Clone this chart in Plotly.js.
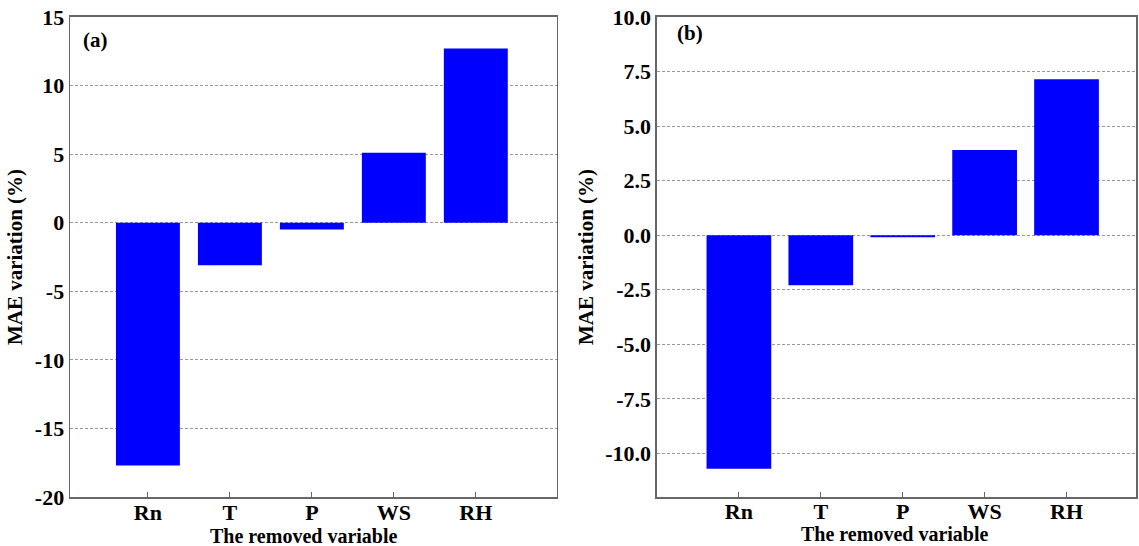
<!DOCTYPE html>
<html><head><meta charset="utf-8">
<script src="https://cdn.plot.ly/plotly-3.0.1.min.js"></script>
<style>html,body{margin:0;padding:0;background:#fff}#chart{width:1139px;height:546px}</style>
</head><body><div id="chart"></div>
<script>
const categories = ["Rn", "T", "P", "WS", "RH"];
const maeA = [-17.7, -3.1, -0.5, 5.1, 12.7];
const maeB = [-10.7, -2.3, -0.1, 3.9, 7.15];
const ticksA = [-20, -15, -10, -5, 0, 5, 10, 15];
const ticksB = [-10, -7.5, -5, -2.5, 0, 2.5, 5, 7.5, 10];
const ticksBText = ticksB.map(v => v.toFixed(1));
const xTitle = "The removed variable";
const yTitle = "MAE variation (%)";

const font = {family: "Liberation Serif, Times New Roman, serif", color: "#000", weight: 700};
const barColor = "#0000ff";

const traces = [
  {type: "bar", x: categories, y: maeA, xaxis: "x", yaxis: "y", marker: {color: barColor}, width: 0.78, hoverinfo: "x+y"},
  {type: "bar", x: categories, y: maeB, xaxis: "x2", yaxis: "y2", marker: {color: barColor}, width: 0.79, hoverinfo: "x+y"}
];

const xbase = {
  type: "category", showline: true, linecolor: "#666", linewidth: 1.5, mirror: true,
  ticks: "inside", ticklen: 5, tickcolor: "#666", showgrid: false,
  tickfont: Object.assign({}, font, {size: 22}), ticklabelstandoff: -5
};
const ybase = {
  showline: true, linecolor: "#666", linewidth: 1.5, mirror: true, ticks: "",
  showgrid: true, gridcolor: "#999", griddash: "3px,2px", gridwidth: 1, zeroline: false,
  tickfont: Object.assign({}, font, {size: 22}),
  title: {text: yTitle, font: Object.assign({}, font, {size: 21}), standoff: 6}
};

const layout = {
  width: 1139, height: 546,
  margin: {l: 0, r: 0, t: 0, b: 0},
  paper_bgcolor: "#fff", plot_bgcolor: "#fff",
  showlegend: false, bargap: 0.2,
  xaxis: Object.assign({}, xbase, {domain: [0.0615, 0.489], range: [-0.95, 4.99], anchor: "y"}),
  yaxis: Object.assign({}, ybase, {domain: [0.0897, 0.9689], range: [-20, 15], tickvals: ticksA, ticktext: ticksA.map(String), anchor: "x"}),
  xaxis2: Object.assign({}, xbase, {domain: [0.5768, 0.9975], range: [-1.0, 4.85], anchor: "y2", ticklabelstandoff: -6}),
  yaxis2: Object.assign({}, ybase, {domain: [0.0897, 0.9689], range: [-12, 10], tickvals: ticksB, ticktext: ticksBText, anchor: "x2"}),
  annotations: [
    {text: "(a)", xref: "paper", yref: "paper", x: 81/1139, y: 1 - 40/546, xanchor: "left", yanchor: "middle", showarrow: false, font: Object.assign({}, font, {size: 21})},
    {text: "(b)", xref: "paper", yref: "paper", x: 675/1139, y: 1 - 33/546, xanchor: "left", yanchor: "middle", showarrow: false, font: Object.assign({}, font, {size: 21})},
    {text: xTitle, xref: "paper", yref: "paper", x: 304/1139, y: 1 - 536/546, xanchor: "center", yanchor: "middle", showarrow: false, font: Object.assign({}, font, {size: 20})},
    {text: xTitle, xref: "paper", yref: "paper", x: 895/1139, y: 1 - 534/546, xanchor: "center", yanchor: "middle", showarrow: false, font: Object.assign({}, font, {size: 20})}
  ]
};

Plotly.newPlot("chart", traces, layout, {displayModeBar: false, staticPlot: true});
</script></body></html>
